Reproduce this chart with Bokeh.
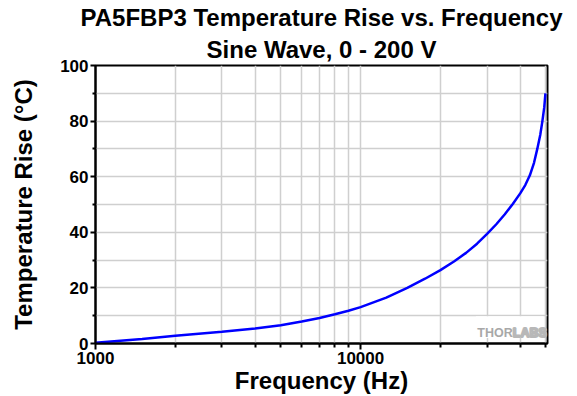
from bokeh.plotting import figure
from bokeh.models import Title, Label, FixedTicker, Range1d, BoxAnnotation
from bokeh.embed import file_html
from bokeh.resources import INLINE

# ---- data ----
freq_hz = [1000, 1500, 2000, 3000, 4000, 5000, 6000, 7000, 8000, 9000, 10000,
           12500, 15000, 17500, 20000, 22500, 25000, 27500, 30000, 32500, 35000,
           37500, 40000, 41800, 43500, 45100, 46400, 47600, 48500, 49300, 49800]
temp_rise_c = [0.3, 1.6, 2.8, 4.2, 5.4, 6.6, 7.9, 9.2, 10.5, 11.8, 13.1,
               16.5, 20.0, 23.3, 26.4, 29.5, 32.6, 35.9, 39.4, 42.9, 46.5,
               50.2, 54.0, 57.0, 60.5, 65.0, 70.0, 75.0, 80.0, 85.0, 90.0]

x_major = [1000, 10000]
x_tick_labels = ["1000", "10000"]
x_minor = [2000, 3000, 4000, 5000, 6000, 7000, 8000, 9000, 20000, 30000, 40000, 50000]
y_major = [0, 20, 40, 60, 80, 100]
y_minor = [10, 30, 50, 70, 90]

title_line1 = "PA5FBP3 Temperature Rise vs. Frequency"
title_line2 = "Sine Wave, 0 - 200 V"
x_label = "Frequency (Hz)"
y_label = "Temperature Rise (°C)"

FONT = "Liberation Sans"

p = figure(width=575, height=396, x_axis_type="log",
           x_range=Range1d(1000, 50700), y_range=Range1d(0, 100),
           output_backend="svg", toolbar_location=None, title=None,
           min_border_left=95, min_border_right=28,
           min_border_top=65, min_border_bottom=53)

p.outline_line_color = "black"
p.outline_line_width = 2

p.line(freq_hz, temp_rise_c, line_color="#0000ff", line_width=2.5)

# titles (first added sits closest to the frame)
t2 = Title(text=title_line2, align="center", text_font=FONT, text_font_size="24px",
           text_font_style="bold", text_color="black", standoff=5)
t1 = Title(text=title_line1, align="center", text_font=FONT, text_font_size="24px",
           text_font_style="bold", text_color="black", standoff=2)
p.add_layout(t2, "above")
p.add_layout(t1, "above")

# ticks / axes
xt = FixedTicker(ticks=x_major, minor_ticks=x_minor)
yt = FixedTicker(ticks=y_major, minor_ticks=y_minor)
p.xaxis.ticker = xt
p.yaxis.ticker = yt
p.xgrid.ticker = xt
p.ygrid.ticker = yt
p.xaxis.major_label_overrides = {v: s for v, s in zip(x_major, x_tick_labels)}

for ax in (p.xaxis, p.yaxis):
    ax.axis_line_color = "black"
    ax.axis_line_width = 2
    ax.major_tick_line_color = "black"
    ax.major_tick_line_width = 2
    ax.minor_tick_line_color = "black"
    ax.minor_tick_line_width = 2
    ax.major_tick_in = 0
    ax.minor_tick_in = 0
    ax.major_label_text_font = FONT
    ax.major_label_text_font_style = "bold"
    ax.major_label_text_font_size = "17px"
    ax.major_label_text_color = "black"
    ax.axis_label_text_font = FONT
    ax.axis_label_text_font_style = "bold"
    ax.axis_label_text_font_size = "24px"
    ax.axis_label_text_color = "black"

p.xaxis.major_tick_out = 6
p.xaxis.minor_tick_out = 4
p.xaxis.major_label_standoff = 2
p.xaxis.axis_label = x_label
p.xaxis.axis_label_standoff = 0

p.yaxis.major_tick_out = 5
p.yaxis.minor_tick_out = 3
p.yaxis.major_label_standoff = 2
p.yaxis.axis_label = y_label
p.yaxis.axis_label_standoff = 20

for g in (p.xgrid, p.ygrid):
    g.grid_line_color = "#cfcfcf"
    g.grid_line_width = 1.5
    g.minor_grid_line_color = "#cfcfcf"
    g.minor_grid_line_width = 1.5

# THORLABS watermark on a white patch
p.add_layout(BoxAnnotation(left=27200, right=49000, bottom=2.0, top=9.8,
                           fill_color="white", fill_alpha=1.0, line_alpha=0))
wm_x = 37500
wm_y = 3.9
p.add_layout(Label(x=wm_x, y=wm_y, text="THOR", text_align="right",
                   text_baseline="alphabetic", text_font=FONT,
                   text_font_style="bold", text_font_size="12.5px",
                   text_color="#a8a8a8"))
p.add_layout(Label(x=wm_x, y=wm_y, text="LABS", text_align="left",
                   text_baseline="alphabetic", text_font=FONT,
                   text_font_style="bold", text_font_size="12.5px",
                   text_color="#eeeeee", text_outline_color="#b8b8b8"))

open("out.html", "w").write(file_html(p, INLINE))
